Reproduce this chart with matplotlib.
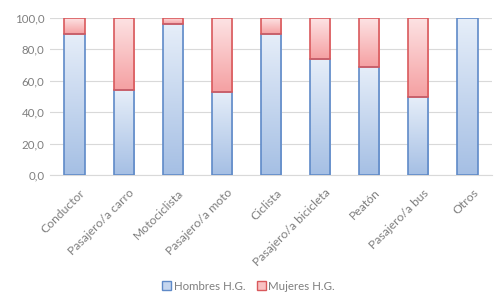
import numpy as np
import matplotlib.pyplot as plt
import matplotlib.colors as mcolors
import matplotlib.transforms as mtransforms
from matplotlib.patches import Patch
from matplotlib.ticker import FuncFormatter

categorias = ['Conductor', 'Pasajero/a carro', 'Motociclista', 'Pasajero/a moto',
              'Ciclista', 'Pasajero/a bicicleta', 'Peatón', 'Pasajero/a bus', 'Otros']
hombres = [90.0, 54.0, 96.0, 53.0, 90.0, 74.0, 69.0, 49.5, 100.0]
mujeres = [100 - h for h in hombres]

plt.rcParams['font.family'] = ['Lato', 'DejaVu Sans']
gris = '#7f7f7f'
azul_borde, rojo_borde = '#5f8ac8', '#d9595c'

fig = plt.figure(figsize=(4.97, 3.07), dpi=100)
ax = fig.add_axes([50/497, 1 - 175/307, 442/497, 157/307])

x = np.arange(len(categorias))
b1 = ax.bar(x, hombres, width=0.41, color='none',
            edgecolor=[azul_borde if v > 0 else 'none' for v in hombres], linewidth=1.2, zorder=3)
b2 = ax.bar(x, mujeres, width=0.41, bottom=hombres, color='none',
            edgecolor=[rojo_borde if v > 0 else 'none' for v in mujeres], linewidth=1.2, zorder=3)

# gradient fill per segment (light on top, darker at bottom)
cm_azul = mcolors.LinearSegmentedColormap.from_list('az', ['#a5bfe4', '#e6eef9'])
cm_rojo = mcolors.LinearSegmentedColormap.from_list('ro', ['#f5a0a2', '#fde3e4'])
grad = np.linspace(0, 1, 256).reshape(-1, 1)
for bars, cm in [(b1, cm_azul), (b2, cm_rojo)]:
    for r in bars:
        if r.get_height() <= 0:
            continue
        x0, y0, w, h = r.get_x(), r.get_y(), r.get_width(), r.get_height()
        im = ax.imshow(grad, cmap=cm, aspect='auto', origin='lower',
                       extent=[x0, x0 + w, y0, y0 + h], zorder=2)
        im.set_clip_path(r)

ax.set_xlim(-0.5, len(categorias) - 0.5)
ax.set_ylim(0, 100)
ax.set_yticks([0, 20, 40, 60, 80, 100])
ax.yaxis.set_major_formatter(FuncFormatter(lambda v, p: f'{v:.1f}'.replace('.', ',')))
ax.set_xticks(x)
ax.set_xticklabels(categorias, rotation=45, ha='right', rotation_mode='anchor')
ax.tick_params(axis='both', length=0, colors=gris)
ax.tick_params(axis='x', pad=3, labelsize=8.7)
ax.tick_params(axis='y', pad=4, labelsize=8.3)
# nudge rotated labels right/down like the original
off = mtransforms.ScaledTranslation(5/100, -8/100, fig.dpi_scale_trans)
for lab in ax.get_xticklabels():
    lab.set_transform(lab.get_transform() + off)
ax.grid(axis='y', color='#d9d9d9', linewidth=0.8, zorder=0)
for s in ['top', 'right', 'left']:
    ax.spines[s].set_visible(False)
ax.spines['bottom'].set_color('#d9d9d9')

handles = [Patch(facecolor='#c5d6ef', edgecolor=azul_borde, label='Hombres H.G.'),
           Patch(facecolor='#f9c2c3', edgecolor=rojo_borde, label='Mujeres H.G.')]
fig.legend(handles=handles, loc='center', bbox_to_anchor=(0.5, 1 - 286/307), ncol=2,
           frameon=False, fontsize=8.3, labelcolor=gris, handlelength=0.8, handleheight=0.8,
           handletextpad=0.2, columnspacing=1.0)

fig.savefig('out.png', dpi=100)
